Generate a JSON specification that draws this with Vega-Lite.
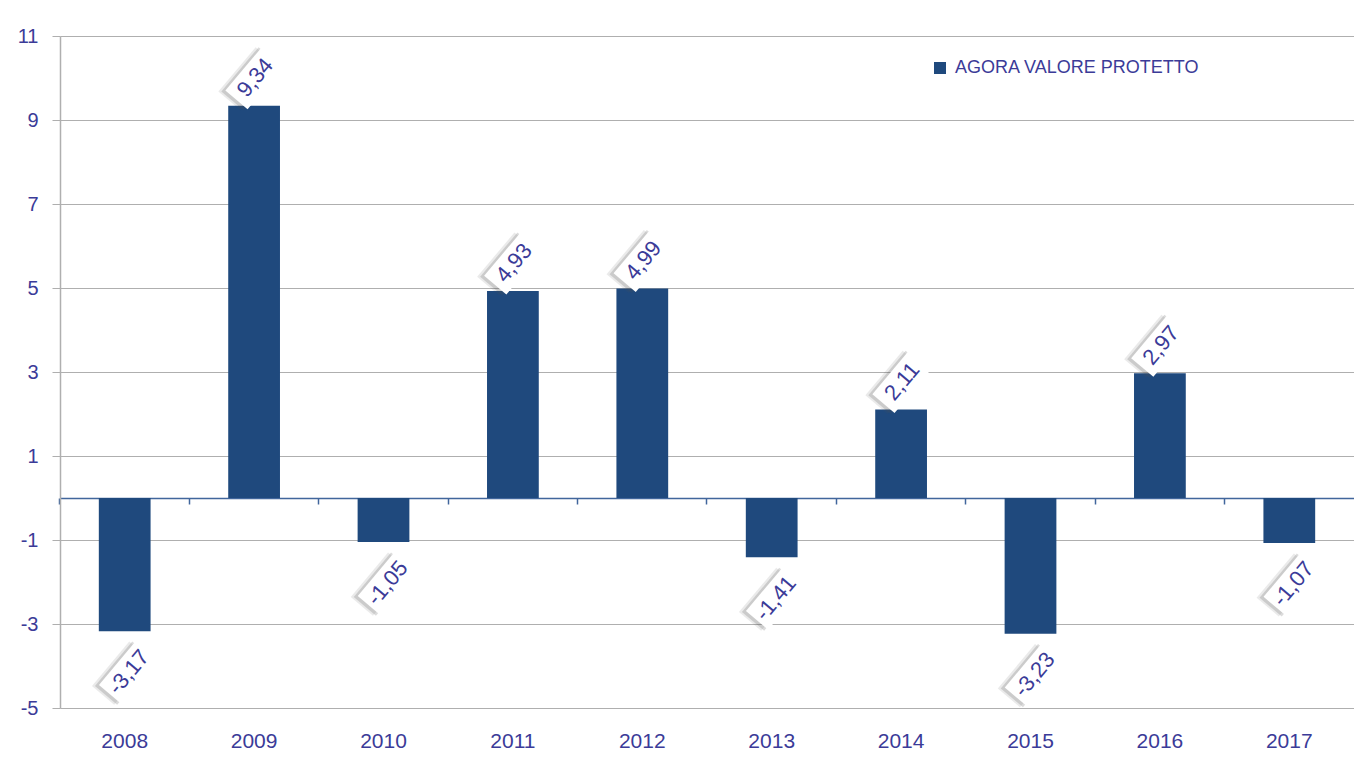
{
  "$schema": "https://vega.github.io/schema/vega-lite/v6.json",
  "width": 1294,
  "height": 672,
  "autosize": {"type": "none"},
  "padding": {"left": 60, "top": 36, "right": 0, "bottom": 52},
  "background": "white",
  "config": {
    "view": {"stroke": null},
    "font": "Liberation Sans"
  },
  "data": {
    "values": [
      {"anno": "2008", "valore": -3.17, "etichetta": "-3,17"},
      {"anno": "2009", "valore": 9.34, "etichetta": "9,34"},
      {"anno": "2010", "valore": -1.05, "etichetta": "-1,05"},
      {"anno": "2011", "valore": 4.93, "etichetta": "4,93"},
      {"anno": "2012", "valore": 4.99, "etichetta": "4,99"},
      {"anno": "2013", "valore": -1.41, "etichetta": "-1,41"},
      {"anno": "2014", "valore": 2.11, "etichetta": "2,11"},
      {"anno": "2015", "valore": -3.23, "etichetta": "-3,23"},
      {"anno": "2016", "valore": 2.97, "etichetta": "2,97"},
      {"anno": "2017", "valore": -1.07, "etichetta": "-1,07"}
    ]
  },
  "resolve": {"axis": {"x": "independent"}},
  "layer": [
    {
      "mark": {"type": "bar", "color": "#1F497D"},
      "encoding": {
        "x": {
          "field": "anno", "type": "ordinal",
          "scale": {"paddingInner": 0.6, "paddingOuter": 0.3},
          "axis": {
            "orient": "bottom", "offset": -210, "title": null, "labels": false,
            "domainColor": "#41669C", "domainWidth": 1.5,
            "ticks": true, "tickColor": "#41669C", "tickSize": 6, "tickWidth": 1.5,
            "bandPosition": -0.75, "grid": false
          }
        },
        "y": {
          "field": "valore", "type": "quantitative",
          "scale": {"domain": [-5, 11], "nice": false, "zero": false},
          "axis": {
            "title": null, "values": [-5, -3, -1, 1, 3, 5, 7, 9, 11],
            "labelExpr": "'' + datum.value",
            "grid": true, "gridColor": "#AFAFAF", "gridWidth": 1,
            "domain": true, "domainColor": "#AFAFAF", "domainWidth": 1.5,
            "tickColor": "#AFAFAF", "tickSize": 8, "tickWidth": 1,
            "labelColor": "#3B3B98", "labelFontSize": 20, "labelPadding": 14,
            "labelFont": "Liberation Sans"
          }
        },
        "color": {
          "datum": "AGORA VALORE PROTETTO", "type": "nominal",
          "scale": {"range": ["#1F497D"]},
          "legend": {
            "title": null, "orient": "none", "legendX": 871, "legendY": 23,
            "symbolType": "square", "symbolSize": 144, "symbolStrokeWidth": 0,
            "labelColor": "#3B3B98", "labelFontSize": 18, "labelOffset": 6, "labelLimit": 0,
            "labelFont": "Liberation Sans", "padding": 0
          }
        }
      }
    },
    {
      "transform": [{"filter": "datum.valore > 0"}],
      "mark": {"type": "point", "shape": "M-1,-0.5L1,-0.5L1,0.5L-1,0.5Z", "filled": true, "color": "#505050", "opacity": 0.12, "angle": -50, "xOffset": -6, "yOffset": -27, "size": 3364},
      "encoding": {"x": {"field": "anno", "type": "ordinal", "axis": null}, "y": {"field": "valore", "type": "quantitative"}}
    },
    {
      "transform": [{"filter": "datum.valore > 0"}],
      "mark": {"type": "point", "shape": "M-1,-0.5L1,-0.5L1,0.5L-1,0.5Z", "filled": true, "color": "#505050", "opacity": 0.2, "angle": -50, "xOffset": -3, "yOffset": -27, "size": 3364},
      "encoding": {"x": {"field": "anno", "type": "ordinal", "axis": null}, "y": {"field": "valore", "type": "quantitative"}}
    },
    {
      "transform": [{"filter": "datum.valore > 0"}],
      "mark": {"type": "point", "shape": "M-1,-0.5L1,-0.5L1,0.5L-1,0.5Z", "filled": true, "color": "white", "opacity": 1, "angle": -50, "xOffset": 1, "yOffset": -28, "size": 3364},
      "encoding": {"x": {"field": "anno", "type": "ordinal", "axis": null}, "y": {"field": "valore", "type": "quantitative"}}
    },
    {
      "transform": [{"filter": "datum.valore < 0"}],
      "mark": {"type": "point", "shape": "M-1,-0.5L1,-0.5L1,0.5L-1,0.5Z", "filled": true, "color": "#505050", "opacity": 0.12, "angle": -50, "xOffset": -3, "yOffset": 42, "size": 3364},
      "encoding": {"x": {"field": "anno", "type": "ordinal", "axis": null}, "y": {"field": "valore", "type": "quantitative"}}
    },
    {
      "transform": [{"filter": "datum.valore < 0"}],
      "mark": {"type": "point", "shape": "M-1,-0.5L1,-0.5L1,0.5L-1,0.5Z", "filled": true, "color": "#505050", "opacity": 0.2, "angle": -50, "xOffset": 0, "yOffset": 42, "size": 3364},
      "encoding": {"x": {"field": "anno", "type": "ordinal", "axis": null}, "y": {"field": "valore", "type": "quantitative"}}
    },
    {
      "transform": [{"filter": "datum.valore < 0"}],
      "mark": {"type": "point", "shape": "M-1,-0.5L1,-0.5L1,0.5L-1,0.5Z", "filled": true, "color": "white", "opacity": 1, "angle": -50, "xOffset": 4, "yOffset": 41, "size": 3364},
      "encoding": {"x": {"field": "anno", "type": "ordinal", "axis": null}, "y": {"field": "valore", "type": "quantitative"}}
    },
    {
      "transform": [{"filter": "datum.valore > 0"}],
      "mark": {"type": "text", "angle": -50, "align": "center", "baseline": "middle", "font": "Liberation Sans", "fontSize": 22, "color": "#3B3B98", "xOffset": 1, "yOffset": -28},
      "encoding": {"x": {"field": "anno", "type": "ordinal", "axis": null}, "y": {"field": "valore", "type": "quantitative"}, "text": {"field": "etichetta"}}
    },
    {
      "transform": [{"filter": "datum.valore < 0"}],
      "mark": {"type": "text", "angle": -50, "align": "center", "baseline": "middle", "font": "Liberation Sans", "fontSize": 22, "color": "#3B3B98", "xOffset": 4, "yOffset": 41},
      "encoding": {
        "x": {
          "field": "anno", "type": "ordinal",
          "axis": {
            "orient": "bottom", "title": null, "domain": false, "ticks": false, "grid": false,
            "labelColor": "#3B3B98", "labelFontSize": 21, "labelPadding": 22, "labelAngle": 0,
            "labelFont": "Liberation Sans"
          }
        },
        "y": {"field": "valore", "type": "quantitative"},
        "text": {"field": "etichetta"}
      }
    }
  ]
}
